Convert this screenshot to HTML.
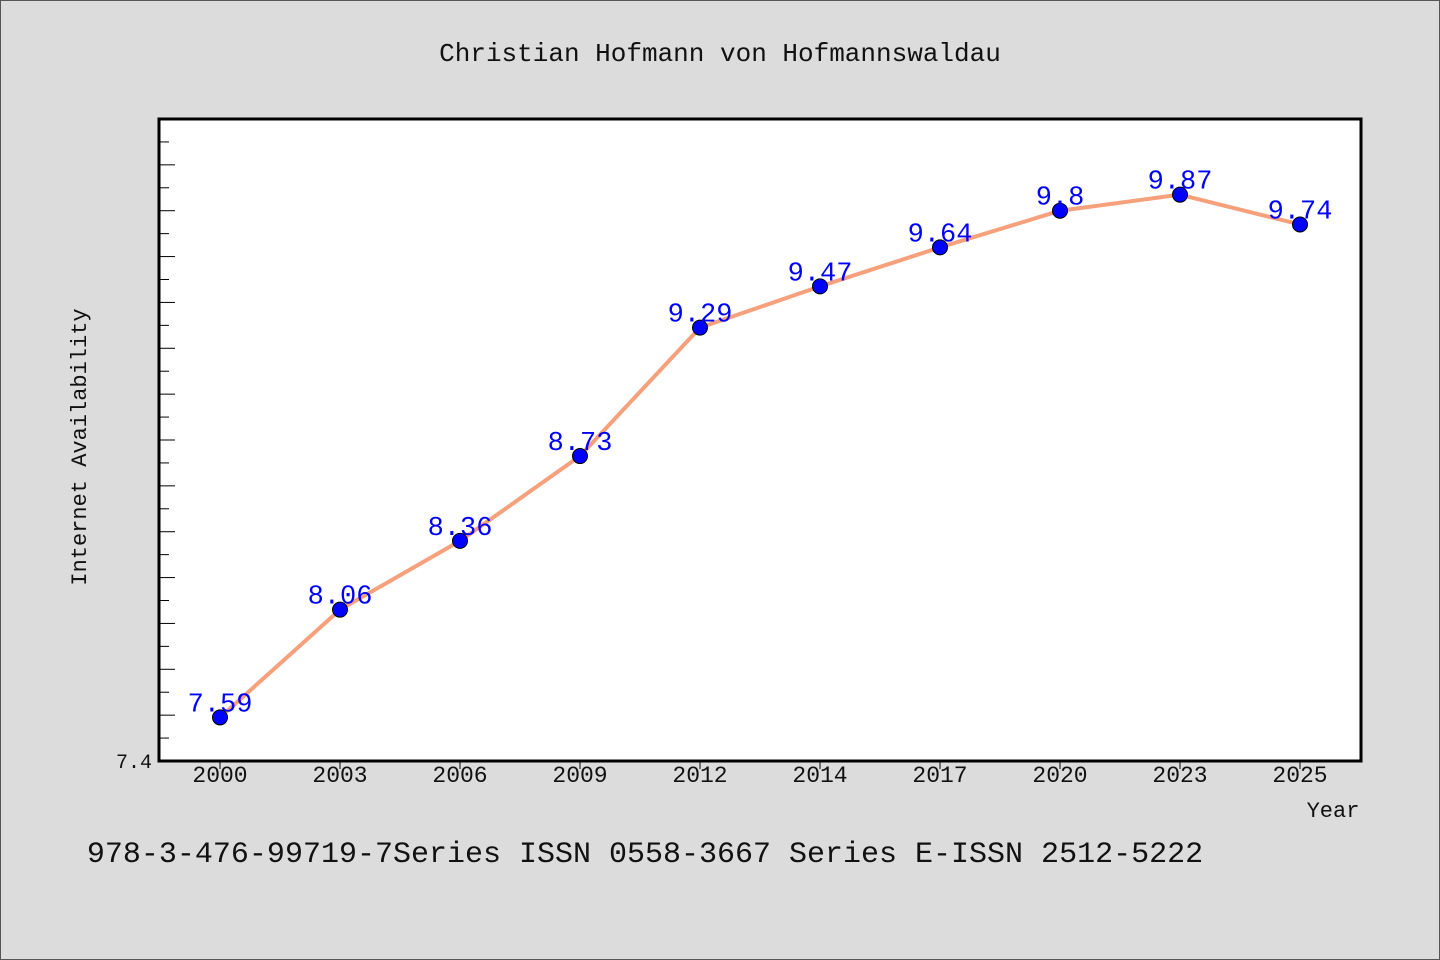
<!DOCTYPE html>
<html><head><meta charset="utf-8"><style>
html,body{margin:0;padding:0;background:#dcdcdc;}
svg{display:block;}
text{font-family:"Liberation Mono","WenQuanYi Zen Hei",monospace;}
</style></head><body>
<svg id="chart" width="1440" height="960">
<rect x="0.5" y="0.5" width="1439" height="959" fill="#dcdcdc" stroke="#555"/>
<text x="720" y="61" font-size="26" text-anchor="middle" fill="#111">Christian Hofmann von Hofmannswaldau</text>
<rect x="159" y="119" width="1202" height="642" fill="#fff" stroke="#000" stroke-width="3"/>
<text x="86" y="447" font-size="22" text-anchor="middle" fill="#111" transform="rotate(-90 86 447)">Internet Availability</text>
<text x="1333" y="817" font-size="22" text-anchor="middle" fill="#111">Year</text>
<text x="645" y="862" font-size="30" text-anchor="middle" fill="#111">978-3-476-99719-7Series ISSN 0558-3667 Series E-ISSN 2512-5222</text>
<g id="axes"></g>
<g id="marks"></g>
</svg>
<script>
const categories=["2000","2003","2006","2009","2012","2014","2017","2020","2023","2025"];
const values=[7.59,8.06,8.36,8.73,9.29,9.47,9.64,9.8,9.87,9.74];
const yTickLabels=["7.4"];
const yMin=7.4, yMax=10.2;
const NS="http://www.w3.org/2000/svg";
const px0=159, px1=1361, py0=119, py1=761;
function xPos(i){return 220+i*(1300-220)/(categories.length-1);}
function yPos(v){return py1-(v-yMin)/(yMax-yMin)*(py1-py0);}
function mk(tag,attrs,parent){const e=document.createElementNS(NS,tag);for(const k in attrs)e.setAttribute(k,attrs[k]);parent.appendChild(e);return e;}
const axes=document.getElementById('axes'), marks=document.getElementById('marks');
for(let k=1;;k++){const v=yMin+k*0.1;const y=yPos(v);if(y<py0+5)break;
 const t=mk('line',{x1:px0,x2:px0+(k%2==0?16:10),y1:y,y2:y,stroke:'#000','stroke-width':1},axes);
 
 }
yTickLabels.forEach(l=>{const t=mk('text',{x:152,y:yPos(parseFloat(l))+7,'font-size':20,'text-anchor':'end',fill:'#111'},axes);t.textContent=l;
 
 });
categories.forEach((c,i)=>{const x=xPos(i);
 const tk=mk('line',{x1:x,x2:x,y1:py1,y2:py1+8,stroke:'#000','stroke-width':1},axes);
 
 
 const t=mk('text',{x:x,y:782,'font-size':23,'text-anchor':'middle',fill:'#111'},axes);t.textContent=c;
 
 });
const pts=values.map((v,i)=>xPos(i)+','+yPos(v)).join(' ');
const line=mk('polyline',{points:pts,fill:'none',stroke:'#f7a07c','stroke-width':4,'stroke-linejoin':'round'},marks);


values.forEach((v,i)=>{const x=xPos(i),y=yPos(v);
 const c=mk('circle',{cx:x,cy:y,r:7.5,fill:'#0000ff',stroke:'#000','stroke-width':1},marks);
 
 
 const t=mk('text',{x:x,y:y-6,'font-size':27,'text-anchor':'middle',fill:'#0000ff'},marks);t.textContent=String(v);
 
 });
</script>
</body></html>
